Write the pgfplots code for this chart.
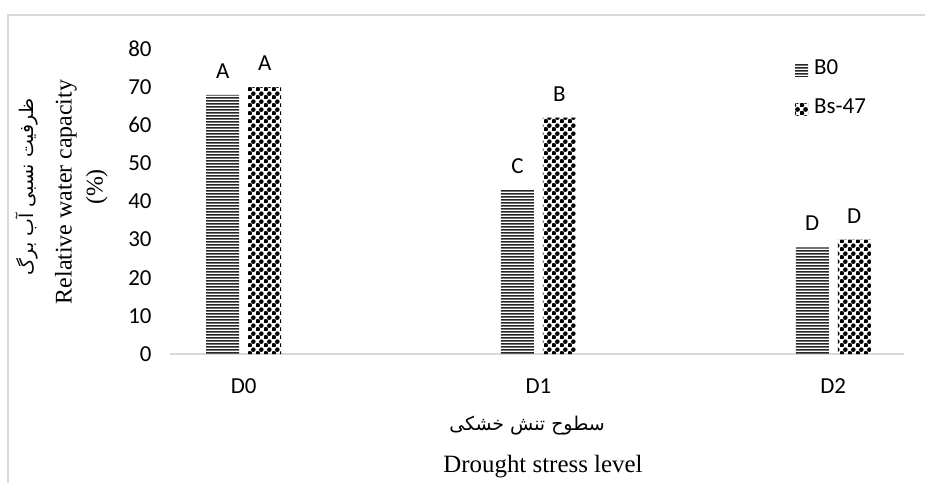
\documentclass[border=0pt]{standalone}
\usepackage{fontspec}
\usepackage{pgfplots}
\pgfplotsset{compat=1.18}
\usetikzlibrary{patterns,patterns.meta}
\setmainfont{Liberation Serif}
\newfontfamily\calibri{Carlito}
\newfontfamily\arabicfont[Script=Arabic]{DejaVu Sans}
\TeXXeTstate=1
\definecolor{axgray}{HTML}{D9D9D9}
\pgfdeclarepattern{name=hlinesx, type=uncolored,
  bottom left={\pgfpoint{0bp}{0bp}}, top right={\pgfpoint{4bp}{3bp}},
  tile size={\pgfpoint{4bp}{3bp}},
  code={\pgfsetlinewidth{1.8bp}\pgfpathmoveto{\pgfpoint{-1bp}{1.5bp}}\pgfpathlineto{\pgfpoint{5bp}{1.5bp}}\pgfusepath{stroke}}}
\pgfdeclarepattern{name=balls, type=uncolored,
  bottom left={\pgfpoint{0bp}{0bp}}, top right={\pgfpoint{8bp}{8bp}},
  tile size={\pgfpoint{8bp}{8bp}},
  code={\pgfpathcircle{\pgfpoint{2bp}{2bp}}{2.6bp}\pgfpathcircle{\pgfpoint{6bp}{6bp}}{2.6bp}\pgfusepath{fill}}}
\pgfplotstableread{
x y lab
0 68 A
1 43 C
2 28 D
}\bzero
\pgfplotstableread{
x y lab
0 70 A
1 62 B
2 30 D
}\bsff
\begin{document}
\begin{tikzpicture}
\useasboundingbox (-170bp,-129bp) rectangle (755bp,354bp);
\draw[axgray, line width=1.5bp] (-162bp,-129bp) -- (-162bp,339bp) -- (755bp,339bp);
\begin{axis}[
  at={(0,0)}, anchor=south west,
  scale only axis, width=734bp, height=305bp,
  ymin=0, ymax=80, ytick={0,10,...,80},
  xmin=-0.25, xmax=2.24,
  xtick={0,1,2}, xticklabels={D0,D1,D2},
  axis x line=bottom, axis y line=left,
  x axis line style={axgray, line width=1.5bp, -},
  y axis line style={draw=none},
  major tick length=0pt,
  /pgf/number format/assume math mode=true,
  tick label style={font=\fontsize{23}{26}\calibri},
  xticklabel style={anchor=base, yshift=-39bp},
  yticklabel style={xshift=-15bp},
  ybar, bar width=33bp,
  point meta=explicit symbolic,
  nodes near coords,
  every node near coord/.append style={font=\fontsize{23}{26}\calibri, yshift=13bp, black},
  legend style={at={(rel axis cs:0.8515,0.969)}, anchor=north west, draw=none, fill=none,
    font=\fontsize{23}{26}\calibri, row sep=18bp, column sep=6bp, inner sep=0pt,
    nodes={inner sep=0pt, text height=16bp, text depth=5bp}},
  legend cell align=left,
  legend image code/.code={\fill[#1] (0bp,-7bp) rectangle (13bp,5bp);},
]
\addplot[draw=none, pattern=hlinesx, pattern color=black!85, bar shift=-21bp] table[x=x,y=y,meta=lab]{\bzero};
\addlegendentry{B0}
\addplot[draw=none, pattern=balls, pattern color=black, bar shift=21bp] table[x=x,y=y,meta=lab]{\bsff};
\addlegendentry{Bs-47}
\end{axis}
\node at (357bp,-72bp) {\fontsize{19}{22}\arabicfont\beginR سطوح تنش خشکی\endR};
\node at (373bp,-113bp) {\fontsize{25}{28}\selectfont Drought stress level};
\node[rotate=90] at (-143bp,167bp) {\fontsize{19}{22}\arabicfont\beginR ظرفیت نسبی آب برگ\endR};
\node[rotate=90] at (-104bp,162bp) {\fontsize{24}{28}\selectfont Relative water capacity};
\node[rotate=90] at (-73bp,167bp) {\fontsize{24}{28}\selectfont (\%)};
\end{tikzpicture}
\end{document}
